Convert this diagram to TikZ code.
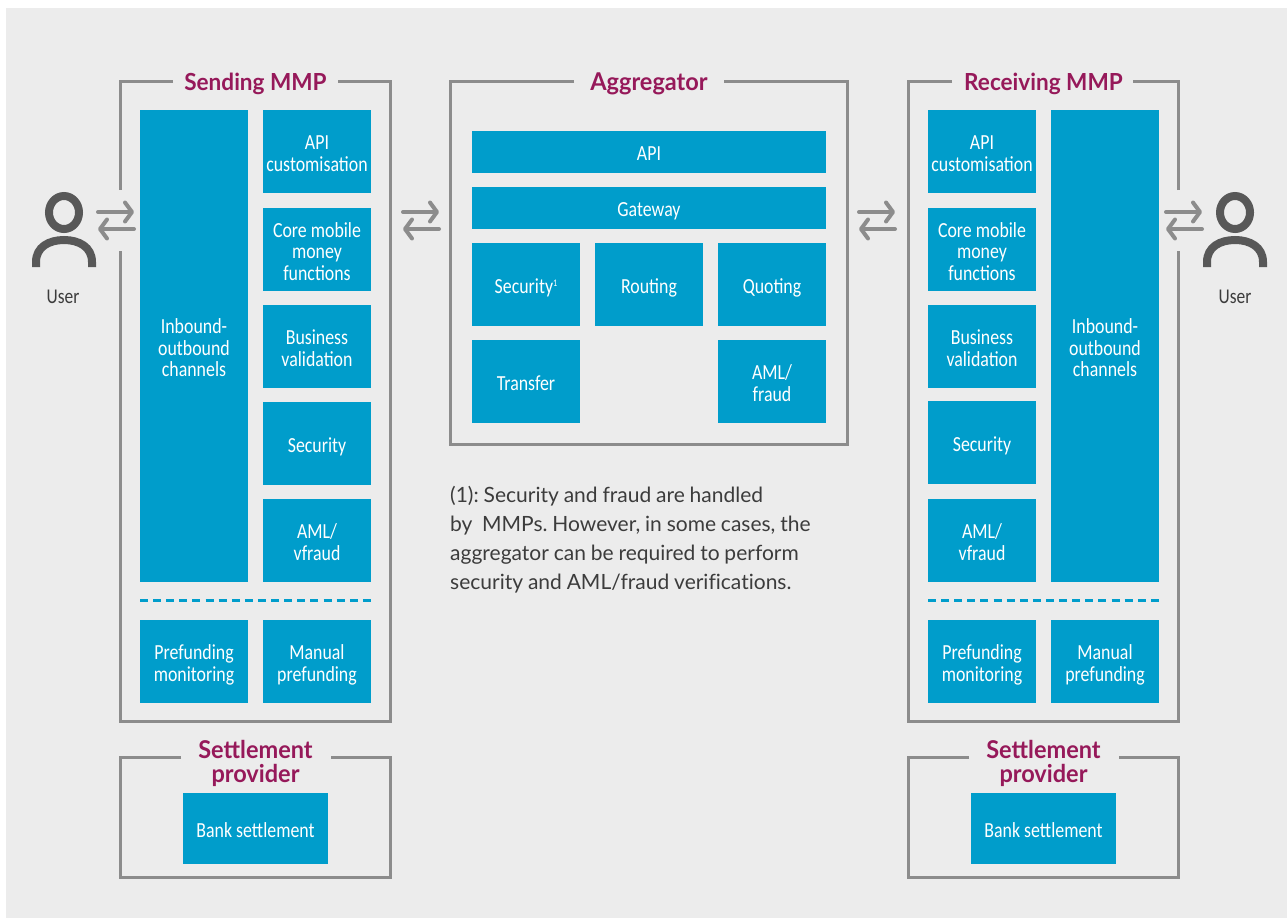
\documentclass[tikz,border=0pt]{standalone}
\usepackage{fontspec}
\usetikzlibrary{arrows.meta}
\setmainfont{Carlito}[FakeStretch=0.83]
\newfontfamily\notefont{Lato}[FakeStretch=1.0,WordSpace=0.9,Ligatures=NoCommon]
\newfontfamily\titlefont{Lato}[FakeStretch=0.96]
\definecolor{bgc}{HTML}{ECECEC}
\definecolor{blk}{HTML}{009DCB}
\definecolor{frm}{HTML}{8C8C8C}
\definecolor{ttl}{HTML}{96195A}
\definecolor{icn}{HTML}{585858}
\definecolor{txt}{HTML}{3C3C3C}
\tikzset{
 x=1pt,y=-1pt,
 blkbase/.style={fill=blk,inner sep=0pt,text=white,align=center,font=\fontsize{21.5}{21.3}\selectfont,
   execute at end node={\rule[-7pt]{0pt}{7pt}}},
 blkbox/.style={blkbase,execute at begin node={\rule{0pt}{24pt}}},
 blktwo/.style={blkbase,execute at begin node={\rule{0pt}{46pt}}},
 blkthree/.style={blkbase,execute at begin node={\rule{0pt}{68pt}}},
 wh/.style 2 args={minimum width=#1,minimum height=#2},
 frameline/.style={draw=frm,line width=3pt,line cap=butt,line join=miter},
 titletext/.style={text=ttl,align=center,inner sep=0pt,font=\titlefont\bfseries\fontsize{23.5}{24}\selectfont},
 titlewide/.style={titletext,font=\titlefont\bfseries\fontsize{24.5}{24}\selectfont},
 usertext/.style={text=txt,inner sep=0pt,font=\fontsize{21}{21}\selectfont},
 flow/.style={draw=frm,line width=4pt,line cap=round,-{Straight Barb[round,length=7pt,width=19pt]}},
 icon/.style={draw=icn,line width=8pt},
 sep/.style={draw=blk,line width=3pt,dash pattern=on 8pt off 5.11pt}
}
\newcommand{\person}[2]{%
  \draw[icon] (#1,#2) ellipse [x radius=15,y radius=16.5];
  \draw[icon,line cap=butt] (#1-28,267) -- (#1-28,262) .. controls (#1-28,247) and (#1-15,240) .. (#1,240) .. controls (#1+15,240) and (#1+28,247) .. (#1+28,262) -- (#1+28,267);
}
\newcommand{\flowpair}[3]{% prefix, x-left, x-right
  \coordinate (#1a) at (#2,212);
  \coordinate (#1b) at (#3,212);
  \coordinate (#1c) at (#3,229);
  \coordinate (#1d) at (#2,229);
  \draw[flow] (#1a) -- (#1b);
  \draw[flow] (#1c) -- (#1d);
}
\begin{document}
\begin{tikzpicture}
\useasboundingbox (0,0) rectangle (1287,918);
\fill[white] (0,0) rectangle (1287,918);
\fill[bgc] (6,8) rectangle (1287,918);

% frames
\draw[frameline] (173,81) -- (120.5,81) -- (120.5,190);
\draw[frameline] (120.5,251) -- (120.5,721) -- (390.3,721) -- (390.3,81) -- (338,81);
\draw[frameline] (181,757.7) -- (120.5,757.7) -- (120.5,877.3) -- (390.3,877.3) -- (390.3,757.7) -- (331,757.7);
\draw[frameline] (574,81) -- (450.5,81) -- (450.5,444) -- (847.5,444) -- (847.5,81) -- (724,81);
\draw[frameline] (952,81) -- (908.5,81) -- (908.5,721) -- (1178.3,721) -- (1178.3,251);
\draw[frameline] (1178.3,190) -- (1178.3,81) -- (1133,81);
\draw[frameline] (969,757.7) -- (908.5,757.7) -- (908.5,877.3) -- (1178.3,877.3) -- (1178.3,757.7) -- (1119,757.7);

% titles
\node[titletext] (t1) at (255.5,84) {Sending MMP};
\node[titlewide] (t2) at (649,84) {Aggregator};
\node[titletext] (t3) at (1043.5,84) {Receiving MMP};
\node[titlewide] (t4) at (255.5,763) {Settlement\\provider};
\node[titlewide] (t5) at (1043.5,763) {Settlement\\provider};

% sending
\node[blkthree,wh={108}{472}] (sIn) at (194,346) {Inbound-\\outbound\\channels};
\node[blktwo,wh={108}{83}] (sApi) at (317,151.5) {API\\customisation};
\node[blkthree,wh={108}{83}] (sCore) at (317,249.5) {Core mobile\\money\\functions};
\node[blktwo,wh={108}{83}] (sBus) at (317,346.5) {Business\\validation};
\node[blkbox,wh={108}{83}] (sSec) at (317,443.5) {Security};
\node[blktwo,wh={108}{83}] (sAml) at (317,540.5) {AML/\\vfraud};
\draw[sep] (140,600) -- (371,600);
\node[blktwo,wh={108}{83}] (sPre) at (194,661.5) {Prefunding\\monitoring};
\node[blktwo,wh={108}{83}] (sMan) at (317,661.5) {Manual\\prefunding};
\node[blkbox,wh={145}{71}] (sBank) at (255.5,828.5) {Bank settlement};

% aggregator
\node[blkbox,wh={354}{42}] (aApi) at (649,152) {API};
\node[blkbox,wh={354}{42}] (aGate) at (649,208) {Gateway};
\node[blkbox,wh={108}{83}] (aSec) at (526,284.5) {Security\raisebox{7pt}{\fontsize{10}{10}\selectfont 1}};
\node[blkbox,wh={108}{83}] (aRou) at (649,284.5) {Routing};
\node[blkbox,wh={108}{83}] (aQuo) at (772,284.5) {Quoting};
\node[blkbox,wh={108}{83}] (aTra) at (526,381.5) {Transfer};
\node[blktwo,wh={108}{83}] (aAml) at (772,381.5) {AML/\\fraud};
\node[anchor=north west,inner sep=0pt,align=left,text=txt,font=\notefont\frenchspacing\fontsize{21}{29}\selectfont] (note) at (450,486)
 {(1): Security and fraud are handled\\by\ \ MMPs. However, in some cases, the\\aggregator can be required to perform\\security and AML/fraud verifications.};

% receiving
\node[blkthree,wh={108}{472}] (rIn) at (1105,346) {Inbound-\\outbound\\channels};
\node[blktwo,wh={108}{83}] (rApi) at (982,151.5) {API\\customisation};
\node[blkthree,wh={108}{83}] (rCore) at (982,249.5) {Core mobile\\money\\functions};
\node[blktwo,wh={108}{83}] (rBus) at (982,346.5) {Business\\validation};
\node[blkbox,wh={108}{83}] (rSec) at (982,442.5) {Security};
\node[blktwo,wh={108}{83}] (rAml) at (982,540.5) {AML/\\vfraud};
\draw[sep] (928,600) -- (1159,600);
\node[blktwo,wh={108}{83}] (rPre) at (982,661.5) {Prefunding\\monitoring};
\node[blktwo,wh={108}{83}] (rMan) at (1105,661.5) {Manual\\prefunding};
\node[blkbox,wh={145}{71}] (rBank) at (1043.5,828.5) {Bank settlement};

% users
\person{64}{212.5}
\person{1235}{212.5}
\node[usertext] (u1) at (63,297) {User};
\node[usertext] (u2) at (1235,297) {User};

% flows
\flowpair{f1}{98}{134}
\flowpair{f2}{403}{439}
\flowpair{f3}{859}{895}
\flowpair{f4}{1166}{1202}
\end{tikzpicture}
\end{document}
